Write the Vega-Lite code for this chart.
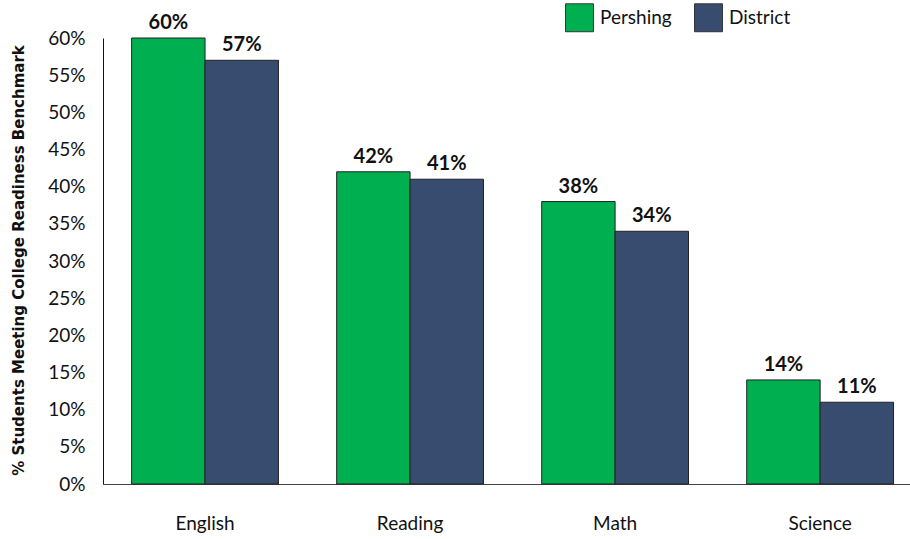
{
  "$schema": "https://vega.github.io/schema/vega-lite/v6.json",
  "width": 807,
  "height": 446,
  "autosize": {"type": "none"},
  "padding": {"left": 103, "top": 38, "right": 0, "bottom": 55},
  "background": "white",
  "config": {"view": {"stroke": null}, "font": "Lato"},
  "data": {"values": [
    {"subject": "English", "group": "Pershing", "value": 0.60},
    {"subject": "English", "group": "District", "value": 0.57},
    {"subject": "Reading", "group": "Pershing", "value": 0.42},
    {"subject": "Reading", "group": "District", "value": 0.41},
    {"subject": "Math", "group": "Pershing", "value": 0.38},
    {"subject": "Math", "group": "District", "value": 0.34},
    {"subject": "Science", "group": "Pershing", "value": 0.14},
    {"subject": "Science", "group": "District", "value": 0.11}
  ]},
  "encoding": {
    "x": {
      "field": "subject", "type": "nominal",
      "sort": ["English", "Reading", "Math", "Science"],
      "scale": {"paddingInner": 0.284, "paddingOuter": 0.11, "align": 0.635},
      "axis": {"title": null, "labelAngle": 0, "ticks": false, "domainColor": "#444", "domainWidth": 1, "labelFontSize": 19, "labelColor": "#111", "labelPadding": 30, "labelFont": "Lato"}
    },
    "xOffset": {"field": "group", "type": "nominal", "sort": ["Pershing", "District"], "scale": {"paddingInner": 0, "paddingOuter": 0}},
    "y": {
      "field": "value", "type": "quantitative",
      "scale": {"domain": [0, 0.6], "nice": false},
      "axis": {
        "format": ".0%", "values": [0, 0.05, 0.1, 0.15, 0.2, 0.25, 0.3, 0.35, 0.4, 0.45, 0.5, 0.55, 0.6],
        "grid": false, "ticks": false, "domainColor": "#111", "domainWidth": 1,
        "labelFontSize": 19, "labelColor": "#111", "labelPadding": 18, "labelFont": "Lato",
        "title": "% Students Meeting College Readiness Benchmark",
        "titleFont": "DejaVu Sans", "titleFontSize": 15, "titleFontWeight": "bold", "titleColor": "#111",
        "titleAngle": -90, "titleX": -85, "titleY": 222, "titleAlign": "center", "titleBaseline": "middle"
      }
    }
  },
  "layer": [
    {
      "mark": {"type": "bar", "stroke": "#222", "strokeWidth": 1},
      "encoding": {
        "color": {
          "field": "group", "type": "nominal",
          "scale": {"domain": ["Pershing", "District"], "range": ["#00B050", "#374C6E"]},
          "legend": {
            "title": null, "orient": "none", "direction": "horizontal",
            "legendX": 462, "legendY": -35, "padding": 0,
            "symbolType": "square", "symbolSize": 780, "symbolStrokeColor": "#333", "symbolStrokeWidth": 1, "symbolOpacity": 1,
            "labelFontSize": 19, "labelColor": "#111", "labelFont": "Lato", "labelOffset": 6, "columnPadding": 20
          }
        }
      }
    },
    {
      "mark": {"type": "text", "baseline": "bottom", "dy": -5, "fontSize": 20, "fontWeight": "bold", "color": "#111", "font": "Lato"},
      "encoding": {"text": {"field": "value", "type": "quantitative", "format": ".0%"}}
    }
  ]
}
